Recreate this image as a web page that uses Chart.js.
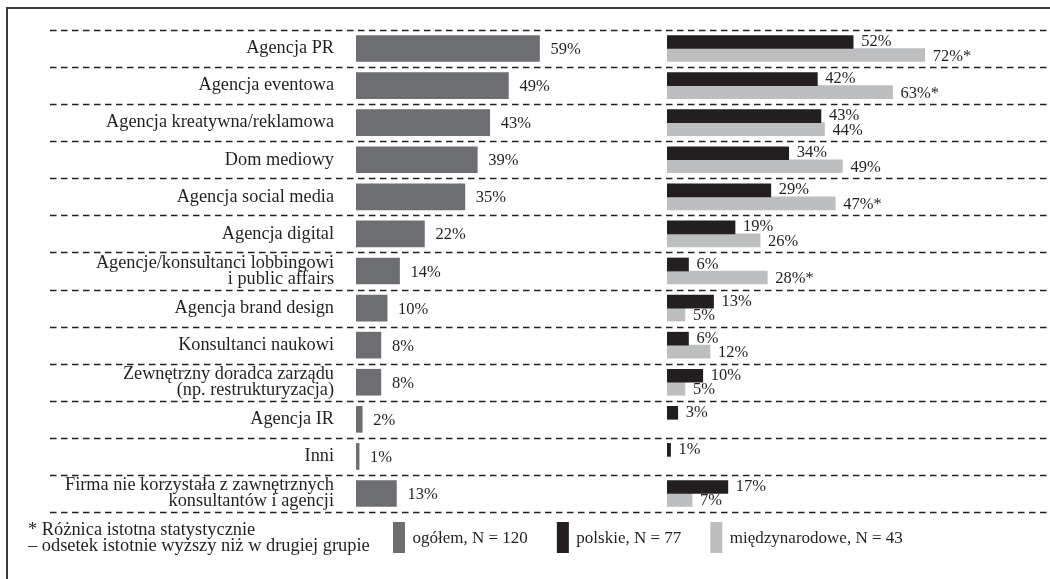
<!DOCTYPE html>
<html lang="pl">
<head>
<meta charset="utf-8">
<title>Korzystanie z zewnętrznych agencji i konsultantów</title>
<script src="https://cdn.jsdelivr.net/npm/chart.js@4/dist/chart.umd.min.js"></script>
<style>
  html, body { margin: 0; padding: 0; background: #fff; overflow: hidden; }
  #wrap { position: relative; width: 1050px; height: 579px; overflow: hidden; }
  #frame { position: absolute; left: 6px; top: 7px; width: 1100px; height: 640px; border: 2px solid #3a3a3a; box-sizing: border-box; pointer-events: none; }
  canvas { display: block; }
</style>
</head>
<body>
<div id="wrap">
  <canvas id="chart" width="1050" height="579"></canvas>
  <div id="frame"></div>
</div>
<script>
// Rows (top to bottom) and the three shares, in %.
const CATEGORIES = [
  'Agencja PR',
  'Agencja eventowa',
  'Agencja kreatywna/reklamowa',
  'Dom mediowy',
  'Agencja social media',
  'Agencja digital',
  ['Agencje/konsultanci lobbingowi', 'i public affairs'],
  'Agencja brand design',
  'Konsultanci naukowi',
  ['Zewnętrzny doradca zarządu', '(np. restrukturyzacja)'],
  'Agencja IR',
  'Inni',
  ['Firma nie korzystała z zawnętrznych', 'konsultantów i agencji']
];
const TOTAL  = [59, 49, 43, 39, 35, 22, 14, 10, 8, 8, 2, 1, 13];
const POLISH = [52, 42, 43, 34, 29, 19, 6, 13, 6, 10, 3, 1, 17];
const INTL   = [72, 63, 44, 49, 47, 26, 28, 5, 12, 5, null, null, 7];
// statistically significant difference -> value gets an asterisk
const INTL_SIG = [true, true, false, false, true, false, true, false, false, false, false, false, false];
const SERIES_NAMES = ['ogółem, N = 120', 'polskie, N = 77', 'międzynarodowe, N = 43'];
const FOOTNOTE = ['* Różnica istotna statystycznie', '– odsetek istotnie wyższy niż w drugiej grupie'];

const INK = '#231f20';
const SERIF = '"Liberation Serif", "Times New Roman", Times, serif';
const COL_TOTAL = '#6d6e71', COL_PL = '#231f20', COL_INTL = '#bcbec0';

// dashed separators between rows, running from the label column to the right edge
const rowRules = {
  id: 'rowRules',
  beforeDatasetsDraw(chart) {
    const y = chart.scales.y, ctx = chart.ctx;
    ctx.save();
    ctx.strokeStyle = INK;
    ctx.lineWidth = 1.3;
    ctx.setLineDash([6.5, 4.5]);
    for (let i = 0; i <= CATEGORIES.length; i++) {
      const py = Math.round(y.getPixelForValue(i - 0.5)) + 0.5;
      ctx.beginPath();
      ctx.moveTo(50, py);
      ctx.lineTo(chart.width, py);
      ctx.stroke();
    }
    ctx.restore();
  }
};

// "59%" style labels at the end of every bar
const valueLabels = {
  id: 'valueLabels',
  afterDatasetsDraw(chart) {
    const ctx = chart.ctx;
    ctx.save();
    ctx.font = '16.5px ' + SERIF;
    ctx.fillStyle = INK;
    ctx.textAlign = 'left';
    ctx.textBaseline = 'alphabetic';
    chart.data.datasets.forEach((ds, di) => {
      const meta = chart.getDatasetMeta(di);
      const gap = di === 0 ? 11 : 8;
      const dy = di === 1 ? -1.5 : 0;
      meta.data.forEach((bar, i) => {
        const v = ds.data[i];
        if (v == null) return;
        const txt = v + '%' + (ds.sig && ds.sig[i] ? '*' : '');
        ctx.fillText(txt, bar.x + gap, bar.y + dy + 5.5);
      });
    });
    ctx.restore();
  }
};

// footnote + series key under the last row
const keyBand = {
  id: 'keyBand',
  afterDraw(chart) {
    const {ctx, chartArea} = chart;
    ctx.save();
    ctx.textAlign = 'left';
    ctx.textBaseline = 'alphabetic';
    ctx.fillStyle = INK;
    ctx.font = '18.4px ' + SERIF;
    FOOTNOTE.forEach((t, i) => ctx.fillText(t, 28, chartArea.bottom + 23 + i * 16));
    ctx.font = '17px ' + SERIF;
    let x = chartArea.left + 37;
    const top = chartArea.bottom + 10;
    chart.data.datasets.forEach(ds => {
      ctx.fillStyle = ds.backgroundColor;
      ctx.fillRect(x, top, 12, 31);
      ctx.fillStyle = INK;
      ctx.fillText(ds.label, x + 19.5, top + 21);
      x += 19.5 + ctx.measureText(ds.label).width + 29;
    });
    ctx.restore();
  }
};

new Chart(document.getElementById('chart'), {
  type: 'bar',
  data: {
    labels: CATEGORIES,
    datasets: [
      { label: SERIES_NAMES[0], data: TOTAL, xAxisID: 'xl', backgroundColor: COL_TOTAL,
        grouped: false, barThickness: 26 },
      { label: SERIES_NAMES[1], data: POLISH, xAxisID: 'xr', backgroundColor: COL_PL,
        barThickness: 13 },
      { label: SERIES_NAMES[2], data: INTL, xAxisID: 'xr', backgroundColor: COL_INTL,
        barThickness: 13, sig: INTL_SIG }
    ]
  },
  options: {
    indexAxis: 'y',
    responsive: false,
    devicePixelRatio: 1,
    animation: false,
    layout: { padding: { top: 29, bottom: 67, right: 25, left: 0 } },
    plugins: { legend: { display: false }, tooltip: { enabled: false } },
    scales: {
      xl: { type: 'linear', position: 'bottom', stack: 'panels', stackWeight: 311,
            min: 0, max: 100, display: false },
      xr: { type: 'linear', position: 'bottom', stack: 'panels', stackWeight: 358,
            min: 0, max: 100, display: false },
      y: {
        type: 'category',
        grid: { display: false },
        border: { display: false },
        afterFit: s => { s.width = 356; },
        ticks: {
          autoSkip: false,
          padding: 14,
          color: INK,
          font: { family: SERIF, size: 18.3, lineHeight: '16px' }
        }
      }
    }
  },
  plugins: [rowRules, valueLabels, keyBand]
});
</script>
</body>
</html>
